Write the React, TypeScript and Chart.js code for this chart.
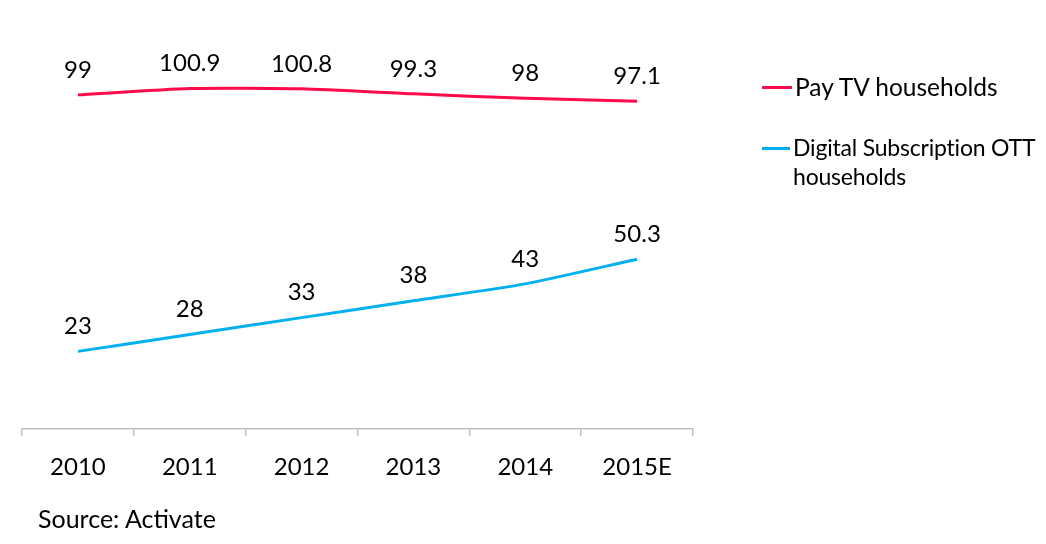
import React, { useEffect, useRef } from "react";
import { Chart, registerables } from "chart.js";

Chart.register(...registerables);

const categories = ["2010", "2011", "2012", "2013", "2014", "2015E"];
const payTvValues = [99, 100.9, 100.8, 99.3, 98, 97.1];
const ottValues = [23, 28, 33, 38, 43, 50.3];
const payTvLabel = "Pay TV households";
const ottLabelLines = ["Digital Subscription OTT", "households"];
const sourceText = "Source: Activate";

const RED = "#FF0A4A";
const BLUE = "#00B0F0";
const FONT = "Lato, 'Open Sans', sans-serif";

const labelPlugin = {
  id: "pointLabels",
  afterDatasetsDraw(chart: any) {
    const ctx = chart.ctx;
    ctx.save();
    ctx.font = `24px ${FONT}`;
    ctx.fillStyle = "#000";
    ctx.textAlign = "center";
    ctx.textBaseline = "middle";
    chart.data.datasets.forEach((ds: any, di: number) => {
      const meta = chart.getDatasetMeta(di);
      meta.data.forEach((pt: any, i: number) => {
        ctx.fillText(String(ds.data[i]), pt.x, pt.y - 25);
      });
    });
    ctx.restore();
  },
};

export default function App() {
  const ref = useRef<HTMLCanvasElement>(null);
  useEffect(() => {
    if (!ref.current) return;
    const chart = new Chart(ref.current, {
      type: "line",
      data: {
        labels: categories,
        datasets: [
          {
            label: payTvLabel,
            data: payTvValues,
            borderColor: RED,
            borderWidth: 3,
            pointRadius: 0,
            tension: 0.2,
            fill: false,
          },
          {
            label: ottLabelLines.join(" "),
            data: ottValues,
            borderColor: BLUE,
            borderWidth: 3,
            pointRadius: 0,
            tension: 0.2,
            fill: false,
          },
        ],
      },
      options: {
        animation: false,
        responsive: false,
        maintainAspectRatio: false,
        layout: { padding: { left: 22, right: 353, top: 24, bottom: 0 } },
        plugins: {
          legend: { display: false },
          tooltip: { enabled: false },
        },
        scales: {
          x: {
            offset: true,
            grid: {
              display: true,
              drawOnChartArea: false,
              drawTicks: true,
              tickLength: 7,
              color: "#BFBFBF",
              lineWidth: 1.5,
              offset: true,
            },
            border: { display: true, color: "#BFBFBF", width: 1.5 },
            ticks: {
              color: "#000",
              font: { family: FONT, size: 24 },
              padding: 17,
              maxRotation: 0,
            },
            afterFit(scale: any) {
              scale.height = 115;
            },
          },
          y: {
            display: false,
            min: 0,
            max: 120,
          },
        },
      },
      plugins: [labelPlugin],
    });
    return () => chart.destroy();
  }, []);

  return (
    <div style={{ position: "fixed", left: 0, top: 0, width: 1046, height: 544, background: "#fff", fontFamily: FONT, overflow: "hidden" }}>
      <canvas ref={ref} width={1046} height={544} style={{ position: "absolute", left: 0, top: 0 }} />
      <div style={{ position: "absolute", left: 762, top: 72, display: "flex", alignItems: "center" }}>
        <div style={{ width: 30, height: 3, background: RED, marginRight: 3 }} />
        <div style={{ fontSize: 24.5, color: "#000", lineHeight: "30px", whiteSpace: "nowrap" }}>{payTvLabel}</div>
      </div>
      <div style={{ position: "absolute", left: 762, top: 133, display: "flex", alignItems: "flex-start" }}>
        <div style={{ width: 28, height: 3, background: BLUE, marginRight: 3, marginTop: 14 }} />
        <div style={{ fontSize: 23, letterSpacing: "-0.2px", color: "#000", lineHeight: "29px", whiteSpace: "nowrap" }}>
          {ottLabelLines[0]}
          <br />
          {ottLabelLines[1]}
        </div>
      </div>
      <div style={{ position: "absolute", left: 38, top: 503, fontSize: 25, color: "#000", lineHeight: "30px" }}>
        {sourceText}
      </div>
    </div>
  );
}
